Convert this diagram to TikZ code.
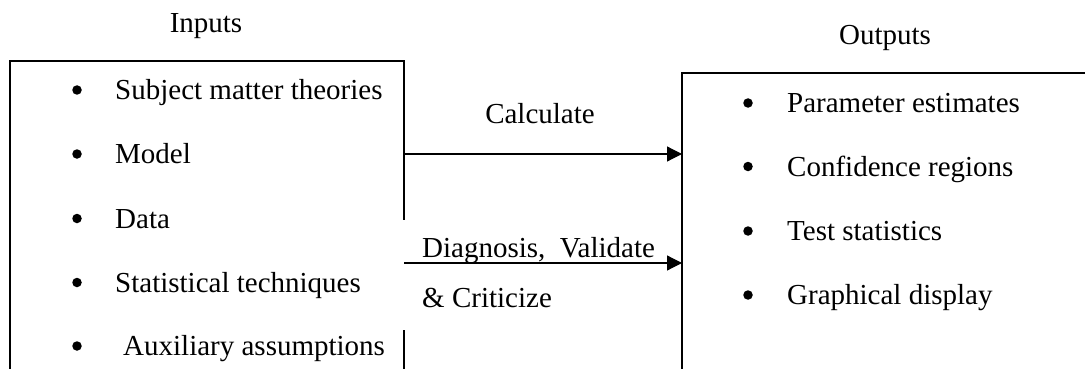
\documentclass[tikz,border=0pt]{standalone}
\usepackage{fontspec}
\setmainfont{Liberation Serif}
\usetikzlibrary{arrows.meta}

\begin{document}
\begin{tikzpicture}[x=1pt,y=-1pt,
  txt/.style = {anchor=base west, inner sep=0pt, font=\fontsize{29}{34}\selectfont},
  dot/.style = {circle, fill, inner sep=0pt, minimum size=9.5pt},
  box/.style = {line width=1.2pt},
  link/.style = {line width=1.2pt, -{Triangle[length=15pt,width=15pt]}}]
\useasboundingbox (0,0) rectangle (1085,369);
\clip (0,0) rectangle (1085,369);
% headings
\node[txt, anchor=base] (in) at (206,33) {Inputs};
\node[txt, anchor=base] (out) at (885,45) {Outputs};
% input box
\draw[box] (10,369) -- (10,61) -- (404,61) -- (404,220);
\draw[box] (404,330) -- (404,369);
\node[dot] (b1) at (77,90) {};
\node[dot] (b2) at (77,154) {};
\node[dot] (b3) at (77,218.5) {};
\node[dot] (b4) at (77,282.5) {};
\node[dot] (b5) at (77,346) {};
\node[txt] (i1) at (115,99.5) {Subject matter theories};
\node[txt] (i2) at (115,163.5) {Model};
\node[txt] (i3) at (115,228) {Data};
\node[txt] (i4) at (115,292) {Statistical techniques};
\node[txt] (i5) at (123,355.5) {Auxiliary assumptions};
% output box
\draw[box] (682,369) -- (682,73) -- (1085,73);
\node[dot] (d1) at (748,103) {};
\node[dot] (d2) at (748,166.5) {};
\node[dot] (d3) at (748,231) {};
\node[dot] (d4) at (748,295) {};
\node[txt] (o1) at (787,112.5) {Parameter estimates};
\node[txt] (o2) at (787,176) {Confidence regions};
\node[txt] (o3) at (787,240.5) {Test statistics};
\node[txt] (o4) at (787,304.5) {Graphical display};
% arrows
\coordinate (c1) at (404,154);
\coordinate (c2) at (682,154);
\coordinate (v1) at (404,263);
\coordinate (v2) at (682,263);
\draw[link] (c1) -- (c2);
\draw[link] (v1) -- (v2);
\node[txt, anchor=base] (calc) at (540,123) {Calculate};
\node[txt] (diag) at (422,257) {Diagnosis,\ \ Validate};
\node[txt] (crit) at (422,307) {\& Criticize};
\end{tikzpicture}
\end{document}
